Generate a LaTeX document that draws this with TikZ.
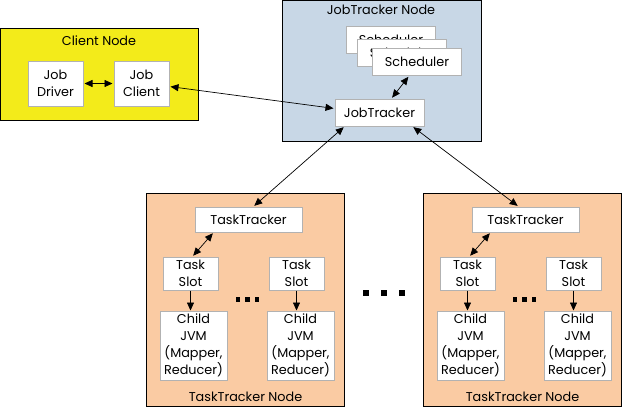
\documentclass[tikz,border=0pt]{standalone}
\usepackage{fontspec}
\setmainfont{Poppins}
\usepackage{xcolor}
\usepackage{tikz}
\usetikzlibrary{calc, arrows.meta, positioning}

\definecolor{clientyellow}{HTML}{F3EB1A}
\definecolor{jtblue}{HTML}{C8D7E6}
\definecolor{ttpeach}{HTML}{FACBA3}

\begin{document}
\begin{tikzpicture}[
    x=1pt, y=-1pt,
    >={Triangle[length=8pt, width=7pt]},
    every node/.style={font=\fontsize{12.8}{17}\selectfont},
    frame/.style={draw, line width=0.9pt, anchor=north west, inner sep=0pt},
    box/.style={draw=gray!60, line width=1pt, fill=white, align=center,
                inner sep=0pt},
    sched/.style={box, minimum width=89, minimum height=27},
    slotbox/.style={box, minimum width=55, minimum height=33},
    jvm/.style={box, minimum width=67, minimum height=69},
    link/.style={<->, line width=0.7pt, shorten <=1pt, shorten >=1pt},
]
  \useasboundingbox (0,0) rectangle (622,408);

  % client side
  \node[frame, fill=clientyellow, minimum width=198, minimum height=92] (client) at (0,28) {};
  \node (clienttitle) at (99,41) {Client Node};
  \node[box, minimum width=55, minimum height=45] (drv) at (55.5,83.5) {Job\\Driver};
  \node[box, minimum width=55, minimum height=45] (cli) at (141.5,83.5) {Job\\Client};

  % jobtracker side
  \node[frame, fill=jtblue, minimum width=199, minimum height=141] (jtnode) at (282,0) {};
  \node (jttitle) at (381,10) {JobTracker Node};
  \node[sched, anchor=north west] (sched1) at (346,26) {Scheduler};
  \node[sched, anchor=north west] (sched2) at (357,39) {Scheduler};
  \node[sched, anchor=north west] (sched3) at (372,48) {Scheduler};
  \node[sched] (jt) at (379.5,112.5) {JobTracker};

  % the two tasktracker nodes
  \foreach \i/\dx in {1/0, 2/277} {
    \begin{scope}[xshift=\dx]
      \node[frame, fill=ttpeach, minimum width=198, minimum height=213] (ttnode\i) at (146,193) {};
      \node (tttitle\i) at (245.5,397) {TaskTracker Node};
      \node[box, minimum width=107, minimum height=25] (tt\i) at (248.5,219.5) {TaskTracker};
      \node[slotbox] (slot\i a) at (190.5,273.5) {Task\\Slot};
      \node[slotbox] (slot\i b) at (296.5,273.5) {Task\\Slot};
      \node[jvm] (child\i a) at (193.5,345.5) {Child\\JVM\\(Mapper,\\Reducer)};
      \node[jvm] (child\i b) at (300.5,345.5) {Child\\JVM\\(Mapper,\\Reducer)};
      \draw[link] ([xshift=-35pt]tt\i.south) -- ([xshift=2pt]slot\i a.north);
      \draw[->, line width=0.7pt] (slot\i a.south) -- (slot\i a.south |- child\i a.north);
      \draw[->, line width=0.7pt] (slot\i b.south) -- (slot\i b.south |- child\i b.north);
      \foreach \d in {238,247.5,257}
        \fill (\d-2.2,297) rectangle ++(4.5,4.5);
    \end{scope}
  }

  % dots between the tasktrackers
  \foreach \d in {366,384,402}
    \fill (\d-3,290) rectangle ++(6,6);

  % connectors
  \draw[link] (drv) -- (cli);
  \draw[link] ([yshift=-3pt]cli.east) -- ([yshift=4pt]jt.west);
  \draw[link] ([xshift=-8pt]sched3.south) -- ([xshift=12pt]jt.north);
  \draw[link] ([xshift=-35pt]jt.south) -- ([xshift=5pt]tt1.north);
  \draw[link] ([xshift=33pt]jt.south) -- ([xshift=-7pt]tt2.north);
\end{tikzpicture}
\end{document}
